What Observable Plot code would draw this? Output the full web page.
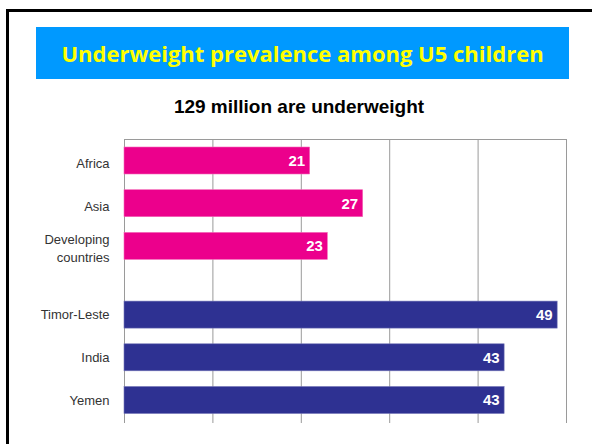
<!DOCTYPE html>
<html>
<head>
<meta charset="utf-8">
<script src="https://cdn.jsdelivr.net/npm/d3@7"></script>
<script src="https://cdn.jsdelivr.net/npm/@observablehq/plot@0.6"></script>
<style>
  html, body { margin: 0; padding: 0; background: #fff; }
  #page { position: relative; width: 592px; height: 444px; overflow: hidden; }
  #border { position: absolute; left: 6px; top: 9px; width: 700px; height: 600px; border: 3px solid #000; box-sizing: border-box; }
  #title { position: absolute; left: 36px; top: 27px; width: 533px; height: 52px; background: #0099FF;
           color: #FFFF00; font-family: "Open Sans", Lato, sans-serif; font-weight: 700; font-size: 22px;
           display: flex; align-items: center; justify-content: center; white-space: nowrap; }
  #subtitle { position: absolute; left: 0; top: 96px; width: 598px; text-align: center;
              font-family: "Liberation Sans", Arial, sans-serif; font-weight: 700; font-size: 19px; color: #000; }
  #chart { position: absolute; left: 0; top: 130px; }
</style>
</head>
<body>
<div id="page">
  <div id="border"></div>
  <div id="title">Underweight prevalence among U5 children</div>
  <div id="subtitle">129 million are underweight</div>
  <div id="chart"></div>
</div>
<script>
const regionNames = ["Africa", "Asia", "Developing\ncountries"];
const regionValues = [21, 27, 23];
const countryNames = ["Timor-Leste", "India", "Yemen"];
const countryValues = [49, 43, 43];
const xTicks = [0, 10, 20, 30, 40, 50];

const regions = regionNames.map((name, i) => ({name, value: regionValues[i]}));
const countries = countryNames.map((name, i) => ({name, value: countryValues[i]}));
const allNames = [...regionNames, ...countryNames];

const labelFont = "'Liberation Sans', Arial, sans-serif";
const gap = 26;

const chart = Plot.plot({
  width: 592,
  height: 310,
  marginTop: 9,
  marginBottom: 17,
  marginLeft: 124,
  marginRight: 26,
  x: {domain: [0, 50], axis: null},
  y: {domain: allNames, range: [17, 257.5], padding: 0.3677, paddingOuter: 0, axis: null, round: false},
  marks: [
    Plot.ruleX(xTicks, {stroke: "#9a9a9a", strokeWidth: 1}),
    Plot.frame({anchor: "top", stroke: "#9a9a9a"}),
    Plot.barX(regions, {x: "value", y: "name", fill: "#EC008C", stroke: "#f36ab8", strokeWidth: 0.6}),
    Plot.barX(countries, {x: "value", y: "name", fill: "#2E3192", stroke: "#7476b8", strokeWidth: 0.6, dy: gap}),
    Plot.text(regions, {x: "value", y: "name", text: d => String(d.value), textAnchor: "end", dx: -5,
      fill: "#fff", fontWeight: "bold", fontSize: 15, fontFamily: labelFont}),
    Plot.text(countries, {x: "value", y: "name", text: d => String(d.value), textAnchor: "end", dx: -5, dy: gap,
      fill: "#fff", fontWeight: "bold", fontSize: 15, fontFamily: labelFont}),
    Plot.text(regions, {x: 0, y: "name", text: "name", textAnchor: "end", dx: -15, dy: 1, lineHeight: 1.4,
      fill: "#333", fontSize: 13, fontFamily: labelFont}),
    Plot.text(countries, {x: 0, y: "name", text: "name", textAnchor: "end", dx: -15, dy: gap,
      fill: "#333", fontSize: 13, fontFamily: labelFont})
  ]
});
document.getElementById("chart").appendChild(chart);
</script>
</body>
</html>
